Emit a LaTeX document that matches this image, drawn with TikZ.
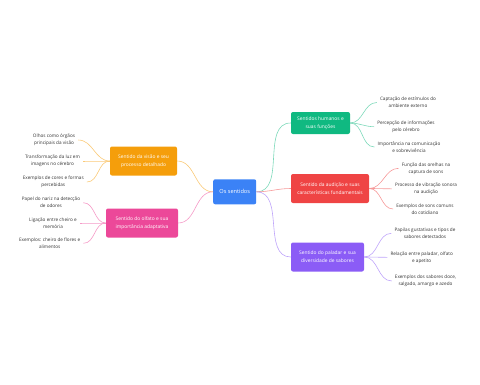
\documentclass[tikz,border=0pt]{standalone}
\usepackage{fontspec}
\setsansfont{Open Sans}

\definecolor{rootblue}{HTML}{3B82F6}
\definecolor{topicgreen}{HTML}{10B981}
\definecolor{topicred}{HTML}{EF4444}
\definecolor{topicpurple}{HTML}{8B5CF6}
\definecolor{topicorange}{HTML}{F59E0B}
\definecolor{topicpink}{HTML}{EC4899}
\definecolor{leaftext}{HTML}{333333}

\begin{document}
\begin{tikzpicture}[
  x=1pt, y=-1pt,
  font=\sffamily,
  root/.style={
    fill=rootblue, text=white, rounded corners=2pt,
    minimum width=43pt, minimum height=25pt,
    font=\sffamily\fontsize{5.6}{7}\selectfont
  },
  topic/.style={
    fill=#1, text=white, rounded corners=2pt,
    minimum height=29pt, align=center,
    font=\sffamily\fontsize{4.9}{8}\selectfont
  },
  leaf/.style={
    text=leaftext, align=center, inner sep=3pt,
    font=\sffamily\fontsize{4.65}{7}\selectfont
  },
  link/.style={draw=#1!55, line width=0.6pt}
]
\useasboundingbox (0,0) rectangle (480,384);

% centre and main topics
\node[root] (root) at (234.7,191.8) {Os sentidos};
\node[topic=topicgreen, minimum width=59pt, minimum height=22pt] (humanos) at (320.5,123) {Sentidos humanos e\\suas funções};
\node[topic=topicred, minimum width=78pt] (audicao) at (330,188.5) {Sentido da audição e suas\\características fundamentais};
\node[topic=topicpurple, minimum width=73pt] (paladar) at (327.5,257) {Sentido do paladar e sua\\diversidade de sabores};
\node[topic=topicorange, minimum width=67pt] (visao) at (143.5,161) {Sentido da visão e seu\\processo detalhado};
\node[topic=topicpink, minimum width=72pt] (olfato) at (142,223) {Sentido do olfato e sua\\importância adaptativa};

% leaves
\node[leaf] (hum1) at (408,102.5) {Captação de estímulos do\\ambiente externo};
\node[leaf] (hum2) at (406,126.7) {Percepção de informações\\pelo cérebro};
\node[leaf] (hum3) at (409,147) {Importância na comunicação\\e sobrevivência};
\node[leaf] (aud1) at (426,168.3) {Função das orelhas na\\captura de sons};
\node[leaf] (aud2) at (426,188.8) {Processo de vibração sonora\\na audição};
\node[leaf] (aud3) at (425,209) {Exemplos de sons comuns\\do cotidiano};
\node[leaf] (pal1) at (425,233.3) {Papilas gustativas e tipos de\\sabores detectados};
\node[leaf] (pal2) at (421.7,257.3) {Relação entre paladar, olfato\\e apetito};
\node[leaf] (pal3) at (425.5,281) {Exemplos dos sabores doce,\\salgado, amargo e azedo};
\node[leaf] (vis1) at (54,140) {Olhos como órgãos\\principais da visão};
\node[leaf] (vis2) at (52.5,161) {Transformação da luz em\\imagens no cérebro};
\node[leaf] (vis3) at (53.3,182) {Exemplos de cores e formas\\percebidas};
\node[leaf] (olf1) at (51,202.7) {Papel do nariz na detecção\\de odores};
\node[leaf] (olf2) at (53,223) {Ligação entre cheiro e\\memória};
\node[leaf] (olf3) at (49.7,243.3) {Exemplos: cheiro de flores e\\alimentos};

% connectors
\draw[link=topicgreen] (root.east) to[out=0, in=180] (humanos.west);
\draw[link=topicred] (root.east) to[out=0, in=180] (audicao.west);
\draw[link=topicpurple] (root.east) to[out=0, in=180] (paladar.west);
\draw[link=topicorange] (root.west) to[out=180, in=0] (visao.east);
\draw[link=topicpink] (root.west) to[out=180, in=0] (olfato.east);

\foreach \leafname in {hum1, hum2, hum3}
  \draw[link=topicgreen] (humanos.east) to[out=0, in=180] (\leafname.west);
\foreach \leafname in {aud1, aud2, aud3}
  \draw[link=topicred] (audicao.east) to[out=0, in=180] (\leafname.west);
\foreach \leafname in {pal1, pal2, pal3}
  \draw[link=topicpurple] (paladar.east) to[out=0, in=180] (\leafname.west);
\foreach \leafname in {vis1, vis2, vis3}
  \draw[link=topicorange] (visao.west) to[out=180, in=0] (\leafname.east);
\foreach \leafname in {olf1, olf2, olf3}
  \draw[link=topicpink] (olfato.west) to[out=180, in=0] (\leafname.east);

\end{tikzpicture}
\end{document}
